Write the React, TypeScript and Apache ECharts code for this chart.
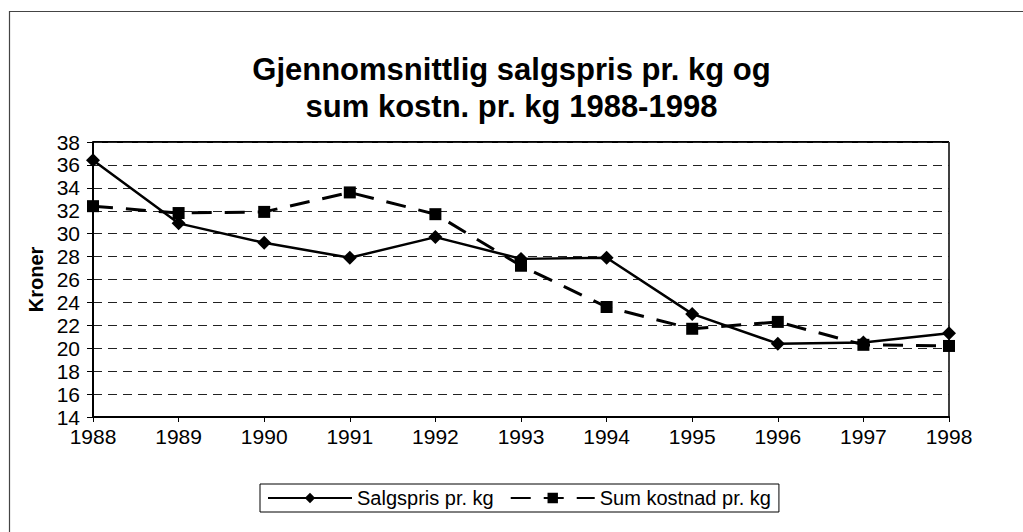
import React, { useEffect, useRef } from "react";
import * as echarts from "echarts";

const years = ["1988", "1989", "1990", "1991", "1992", "1993", "1994", "1995", "1996", "1997", "1998"];
const salgspris = [36.4, 30.9, 29.2, 27.9, 29.7, 27.8, 27.9, 23.0, 20.4, 20.5, 21.3];
const sumKostnad = [32.4, 31.8, 31.9, 33.6, 31.7, 27.2, 23.6, 21.7, 22.3, 20.3, 20.2];
const titleLines = ["Gjennomsnittlig salgspris pr. kg og", "sum kostn. pr. kg 1988-1998"];
const yAxisName = "Kroner";
const seriesNames = ["Salgspris pr. kg", "Sum kostnad pr. kg"];

const FONT = "Arial, 'Liberation Sans', sans-serif";

export default function App() {
  const ref = useRef<HTMLDivElement>(null);
  useEffect(() => {
    if (!ref.current) return;
    const chart = echarts.init(ref.current, undefined, { renderer: "svg" });
    chart.setOption({
      animation: false,
      backgroundColor: "#ffffff",
      title: {
        text: titleLines.join("\n"),
        left: "center",
        top: 46,
        textStyle: {
          fontFamily: FONT,
          fontSize: 31,
          fontWeight: "bold",
          color: "#000",
          lineHeight: 37,
        },
      },
      grid: { left: 93, right: 74, top: 142, bottom: 115, containLabel: false },
      xAxis: {
        type: "category",
        data: years,
        boundaryGap: false,
        axisLine: { show: true, lineStyle: { color: "#000", width: 2 } },
        axisTick: { show: true, alignWithLabel: true, length: 5, lineStyle: { color: "#000", width: 1 } },
        axisLabel: { fontFamily: FONT, fontSize: 21, color: "#000", margin: 9 },
        splitLine: { show: false },
      },
      yAxis: {
        type: "value",
        min: 14,
        max: 38,
        interval: 2,
        name: yAxisName,
        nameLocation: "middle",
        nameGap: 46,
        nameTextStyle: { fontFamily: FONT, fontSize: 20, fontWeight: "bold", color: "#000" },
        axisLine: { show: true, lineStyle: { color: "#000", width: 2 } },
        axisTick: { show: true, length: 6, lineStyle: { color: "#000", width: 1 } },
        axisLabel: { fontFamily: FONT, fontSize: 21, color: "#000", margin: 13 },
        splitLine: { show: true, lineStyle: { color: "#222", width: 1, type: [9, 6] } },
      },
      legend: {
        left: 260,
        top: 484,
        orient: "horizontal",
        itemWidth: 84,
        itemHeight: 13,
        itemGap: 16,
        padding: [4, 8, 4, 7],
        borderColor: "#000",
        borderWidth: 1,
        textStyle: { fontFamily: FONT, fontSize: 20, color: "#000" },
        data: seriesNames,
      },
      graphic: [
        { type: "line", shape: { x1: 9.5, y1: 11, x2: 9.5, y2: 532 }, style: { stroke: "#444", lineWidth: 1.2 } },
        { type: "line", shape: { x1: 9, y1: 11.5, x2: 1023, y2: 11.5 }, style: { stroke: "#444", lineWidth: 1.2 } },
        { type: "line", shape: { x1: 93, y1: 142, x2: 949, y2: 142 }, style: { stroke: "#000", lineWidth: 2 } },
        { type: "line", shape: { x1: 949, y1: 142, x2: 949, y2: 417 }, style: { stroke: "#000", lineWidth: 1.5 } },
      ],
      series: [
        {
          name: seriesNames[0],
          type: "line",
          data: salgspris,
          symbol: "diamond",
          symbolSize: 14,
          itemStyle: { color: "#000" },
          lineStyle: { color: "#000", width: 2.5, type: "solid" },
          z: 3,
        },
        {
          name: seriesNames[1],
          type: "line",
          data: sumKostnad,
          symbol: "rect",
          symbolSize: 12,
          itemStyle: { color: "#000" },
          lineStyle: { color: "#000", width: 3, type: [20, 13] },
          z: 2,
        },
      ],
    });
    return () => chart.dispose();
  }, []);
  return <div ref={ref} style={{ position: "fixed", left: 0, top: 0, width: 1023, height: 532 }} />;
}
